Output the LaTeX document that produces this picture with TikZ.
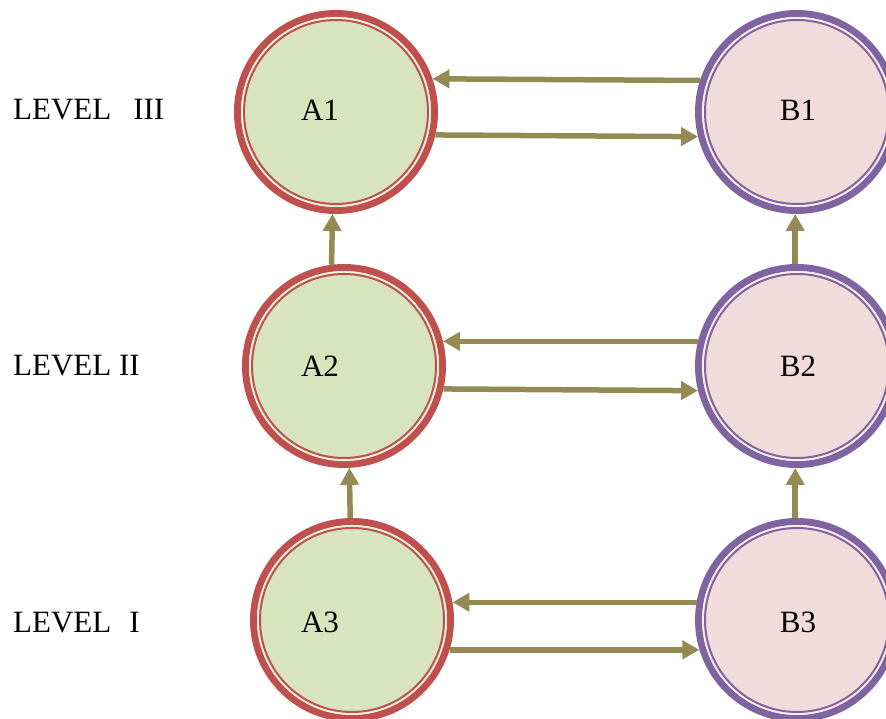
\documentclass[tikz,border=0pt]{standalone}
\usepackage{fontspec}
\setmainfont{Liberation Serif}
\usepackage{tikz}
\usetikzlibrary{arrows.meta}
\usetikzlibrary{positioning}

\definecolor{ared}{HTML}{C0504D}
\definecolor{agreen}{HTML}{D7E4BD}
\definecolor{alight}{HTML}{EBF1DE}
\definecolor{bpurple}{HTML}{8064A2}
\definecolor{bpink}{HTML}{F2DCDB}
\definecolor{blight}{HTML}{F9EEED}
\definecolor{olive}{HTML}{948A54}

\tikzset{
  anode/.style={circle, minimum size=197pt, inner sep=0pt, line width=7pt, draw=ared, fill=agreen},
  bnode/.style={circle, minimum size=197pt, inner sep=0pt, line width=7pt, draw=bpurple, fill=bpink},
  lbl/.style={font=\fontsize{31}{36}\selectfont, inner sep=0pt},
  link/.style={olive, line width=5.5pt, -{Triangle[length=17pt,width=18pt]}}
}

\begin{document}
\begin{tikzpicture}[x=1pt,y=1pt]
        \useasboundingbox (0,0) rectangle (886,-719);
        % level column
        \node[lbl, anchor=west] (lev3) at (13,-110) {LEVEL\hspace{22pt}III};
        \node[lbl, anchor=west] (lev2) at (13,-366) {LEVEL II};
        \node[lbl, anchor=west] (lev1) at (13,-623) {LEVEL\hspace{18pt}I};
        % circles A
        \node[anode] (A1) at (336,-112) {};
        \node[anode] (A2) at (344,-366) {};
        \node[anode] (A3) at (352,-620) {};
        \draw[alight, line width=2pt] (A1) circle (94) (A2) circle (94) (A3) circle (94);
        \draw[ared, line width=2pt] (A1) circle (92) (A2) circle (92) (A3) circle (92);
        % circles B
        \node[bnode] (B1) at (797,-112) {};
        \node[bnode] (B2) at (797,-366) {};
        \node[bnode] (B3) at (797,-620) {};
        \draw[blight, line width=2pt] (B1) circle (94) (B2) circle (94) (B3) circle (94);
        \draw[bpurple, line width=2pt] (B1) circle (92) (B2) circle (92) (B3) circle (92);
        % texts
        \node[lbl] (A1t) at (320,-110) {A1};
        \node[lbl] (A2t) at (320,-366) {A2};
        \node[lbl] (A3t) at (320,-622) {A3};
        \node[lbl] (B1t) at (798,-110) {B1};
        \node[lbl] (B2t) at (798,-366) {B2};
        \node[lbl] (B3t) at (798,-622) {B3};
        % horizontal links
        \draw[link] (B1.162) -- (A1.19);
        \draw[link] (A1.-13) -- (B1.194);
        \draw[link] (B2.166) -- (A2.14);
        \draw[link] (A2.-13) -- (B2.194);
        \draw[link] (B3.170) -- (A3.10);
        \draw[link] (A3.-17) -- (B3.197);
        % vertical links
        \draw[link] (A2.97) -- (A1.268);
        \draw[link] (A3.91) -- (A2.273);
        \draw[link] (B2.91) -- (B1.269);
        \draw[link] (B3.91) -- (B2.269);
\end{tikzpicture}
\end{document}
